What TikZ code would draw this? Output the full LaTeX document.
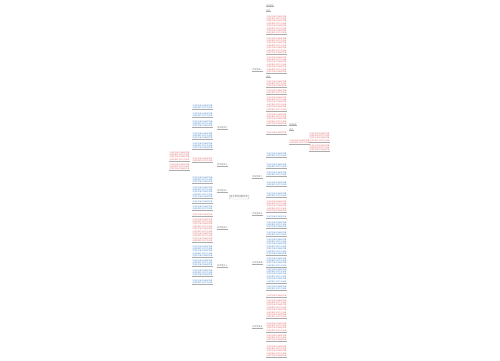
\documentclass[tikz,border=0pt]{standalone}
\usepackage{fontspec}
\newfontfamily\cjk{Noto Sans CJK SC}
\XeTeXlinebreaklocale "zh"
\XeTeXlinebreakskip=0pt plus 0.5pt
\parindent=0pt
\pgfdeclarelayer{bg}
\pgfsetlayers{bg,main}
\definecolor{pk}{RGB}{226,110,110}
\definecolor{bl}{RGB}{70,135,205}
\definecolor{tk}{RGB}{228,190,190}
\definecolor{tw}{RGB}{198,198,205}
\definecolor{dk}{RGB}{85,85,85}
\tikzset{
 leaf/.style={inner sep=0.3pt, text width=20pt, font=\cjk\fontsize{1.8}{2.4}\selectfont},
 small/.style={inner sep=0.3pt, text=dk, font=\cjk\fontsize{1.8}{2.4}\selectfont},
 lab/.style={inner sep=0.4pt, text=dk, font=\cjk\fontsize{2}{2.4}\selectfont},
 uln/.style={draw=gray!65, line width=0.35pt},
 trunk/.style={draw=tk, line width=0.45pt},
 twig/.style={draw=tw, line width=0.3pt},
 rootbox/.style={draw=gray!55, rounded corners=1pt, fill=white, inner sep=1pt, font=\cjk\fontsize{2.2}{2.6}\selectfont, text=dk}
}
\newcommand\lorm[1]{\foreach \k in {1,...,#1}{\ifodd\k 生活中总有许多美好的事\else 让我们难以忘怀久久回味\fi\hskip 0pt plus .5pt\relax}}
% right leaf: name, parent, x, ytop, lines, colour
\newcommand\rleaf[6]{%
 \node[leaf,text=#6,anchor=north west] (#1) at (#3,#4) {\lorm{#5}};
 \draw[uln] (#1.south west) -- (#1.south east);
 \begin{pgfonlayer}{bg}\draw[twig] (#2.south east) .. controls +(1.8,0) and +(-1.8,0) .. (#1.south west);\end{pgfonlayer}}
\newcommand\lleaf[6]{%
 \node[leaf,text=#6,anchor=north east] (#1) at (#3,#4) {\lorm{#5}};
 \draw[uln] (#1.south west) -- (#1.south east);
 \begin{pgfonlayer}{bg}\draw[twig] (#2.south west) .. controls +(-1.8,0) and +(1.8,0) .. (#1.south east);\end{pgfonlayer}}
% right small text: name, parent, x, ytop, text
\newcommand\rsmall[5]{%
 \node[small,anchor=north west] (#1) at (#3,#4) {#5};
 \draw[uln] (#1.south west) -- (#1.south east);
 \begin{pgfonlayer}{bg}\draw[twig] (#2.south east) .. controls +(1.8,0) and +(-1.8,0) .. (#1.south west);\end{pgfonlayer}}
% labels: name, y, text
\newcommand\rlab[3]{%
 \node[lab,anchor=south west] (#1) at (252,#2) {#3};
 \draw[uln] (#1.south west) -- (#1.south east);
 \begin{pgfonlayer}{bg}\draw[trunk] (root.center) .. controls (root.center |- #1.south west) and (root.center |- #1.south west) .. (#1.south west);\end{pgfonlayer}}
\newcommand\llab[3]{%
 \node[lab,anchor=south east] (#1) at (228,#2) {#3};
 \draw[uln] (#1.south west) -- (#1.south east);
 \begin{pgfonlayer}{bg}\draw[trunk] (root.center) .. controls (root.center |- #1.south east) and (root.center |- #1.south east) .. (#1.south east);\end{pgfonlayer}}
\begin{document}
\begin{tikzpicture}[x=1pt,y=-1pt]
\useasboundingbox[fill=white] (0,0) rectangle (500,360);
\node[rootbox] (root) at (239,197) {关于写作文的作文};
% right branches
\rlab{R1}{71}{作文范文一}
\rlab{R2}{178}{作文范文二}
\rlab{R3}{215}{作文范文三}
\rlab{R4}{264}{作文范文四}
\rlab{R5}{328}{作文范文五}
% left branches
\llab{L1}{129}{作文范文六}
\llab{L2}{166}{作文范文七}
\llab{L3}{192}{作文范文八}
\llab{L4}{229}{作文范文九}
\llab{L5}{267}{作文范文十}
% R1 children
\rsmall{a1}{R1}{266}{4}{作文范文}
\rsmall{a2}{R1}{266}{9}{作文}
\rleaf{a3}{R1}{266}{15}{8}{pk}
\rleaf{a4}{R1}{266}{37}{7}{pk}
\rleaf{a5}{R1}{266}{56}{7}{pk}
\rsmall{a6}{R1}{266}{75}{作文}
\rleaf{a7}{R1}{266}{80}{3}{pk}
\rleaf{a8}{R1}{266}{89}{2}{pk}
\rleaf{a9}{R1}{266}{96}{6}{pk}
\rleaf{a10}{R1}{266}{113}{5}{pk}
\rleaf{a11}{R1}{266}{131}{1}{pk}
\rsmall{s1}{a11}{289}{123}{作文范文}
\rsmall{s2}{a11}{289}{128}{作文}
\rleaf{s3}{a11}{289}{139}{2}{pk}
\rleaf{t1}{s3}{309}{132}{4}{pk}
\rleaf{t2}{s3}{309}{144}{3}{pk}
% R2
\rleaf{b1}{R2}{266}{152}{2}{bl}
\rleaf{b2}{R2}{266}{163}{2}{bl}
\rleaf{b3}{R2}{266}{171}{2}{bl}
\rleaf{b4}{R2}{266}{181}{2}{bl}
\rleaf{b5}{R2}{266}{192}{2}{bl}
% R3
\rleaf{c1}{R3}{266}{200}{5}{pk}
\rleaf{c2}{R3}{266}{215}{1}{bl}
\rleaf{c3}{R3}{266}{221}{3}{bl}
% R4
\rleaf{d1}{R4}{266}{231}{2}{bl}
\rleaf{d2}{R4}{266}{238}{7}{bl}
\rleaf{d3}{R4}{266}{257}{4}{bl}
\rleaf{d4}{R4}{266}{268}{6}{bl}
\rleaf{d5}{R4}{266}{285}{2}{bl}
% R5
\rleaf{e1}{R5}{266}{294}{1}{pk}
\rleaf{e2}{R5}{266}{299}{8}{pk}
\rleaf{e3}{R5}{266}{322}{4}{pk}
\rleaf{e4}{R5}{266}{334}{3}{pk}
\rleaf{e5}{R5}{266}{345}{5}{pk}
% L1
\lleaf{f1}{L1}{213}{104}{2}{bl}
\lleaf{f2}{L1}{213}{112}{2}{bl}
\lleaf{f3}{L1}{213}{120}{3}{bl}
\lleaf{f4}{L1}{213}{132}{3}{bl}
\lleaf{f5}{L1}{213}{142}{3}{bl}
% L2
\lleaf{g1}{L2}{213}{157}{2}{pk}
\lleaf{g2}{g1}{190}{151}{4}{pk}
\lleaf{g3}{g1}{190}{163}{3}{pk}
% L3
\lleaf{h1}{L3}{213}{176}{3}{bl}
\lleaf{h2}{L3}{213}{186}{5}{bl}
\lleaf{h3}{L3}{213}{200}{1}{bl}
\lleaf{h4}{L3}{213}{205}{2}{bl}
% L4
\lleaf{i1}{L4}{213}{213}{1}{pk}
\lleaf{i2}{L4}{213}{218}{10}{pk}
% L5
\lleaf{j1}{L5}{213}{245}{5}{bl}
\lleaf{j2}{L5}{213}{259}{3}{bl}
\lleaf{j3}{L5}{213}{269}{3}{bl}
\lleaf{j4}{L5}{213}{279}{2}{bl}
\end{tikzpicture}
\end{document}
